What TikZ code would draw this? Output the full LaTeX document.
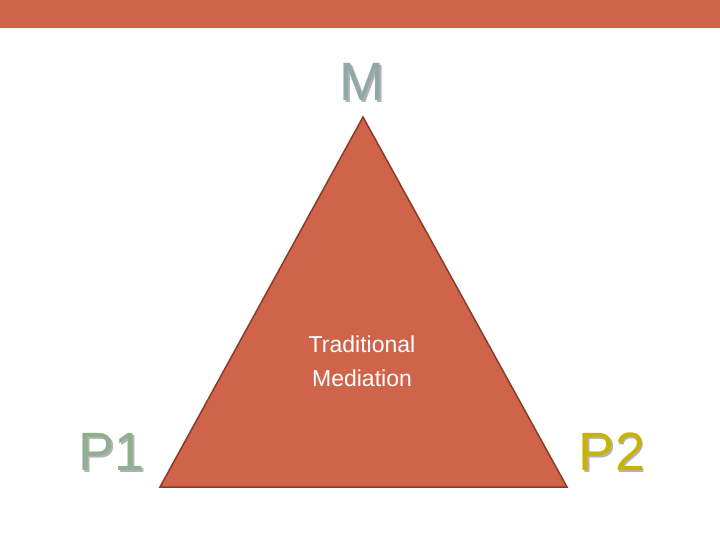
\documentclass[tikz,border=0pt]{standalone}
\usepackage{fontspec}
\setmainfont{Liberation Sans}
\begin{document}
\begin{tikzpicture}[x=1pt,y=-1pt,
  big/.style={font=\fontsize{54}{58}\selectfont, inner sep=0pt},
  shade/.style={big, text=gray!60}]
\useasboundingbox (0,0) rectangle (720,540);
\fill[white] (0,0) rectangle (720,540);
\fill[fill={rgb,255:red,208;green,100;blue,74}] (0,0) rectangle (720,28);
\coordinate (A) at (363,117);
\coordinate (B) at (160,487);
\coordinate (C) at (567,487);
\filldraw[fill={rgb,255:red,208;green,100;blue,74}, draw={rgb,255:red,140;green,58;blue,40}, line width=1.5pt] (A) -- (B) -- (C) -- cycle;
\node[text=white, align=center, font=\fontsize{23}{34}\selectfont] (t) at (362,361) {Traditional\\Mediation};
\node[shade] at (363.5,83.5) {M};
\node[big, text={rgb,255:red,143;green,168;blue,168}] (m) at (362,82) {M};
\node[shade] at (113.5,453.5) {P1};
\node[big, text={rgb,255:red,143;green,175;blue,143}] (p1) at (112,452) {P1};
\node[shade] at (613.5,453.5) {P2};
\node[big, text={rgb,255:red,200;green,180;blue,0}] (p2) at (612,452) {P2};
\end{tikzpicture}
\end{document}
